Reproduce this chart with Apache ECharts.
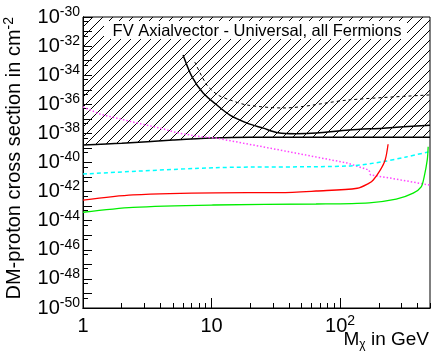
<!DOCTYPE html>
<html>
<head>
<meta charset="utf-8">
<script src="https://cdn.jsdelivr.net/npm/echarts@6/dist/echarts.min.js"></script>
<style>
  html, body { margin: 0; padding: 0; background: #fff; }
  #chart { width: 432px; height: 359px; }
</style>
</head>
<body>
<div id="chart"></div>
<script>
const FONT = '"Liberation Sans", Arial, Helvetica, sans-serif';

// DM mass in GeV / cross section in cm^-2
const excludedMass = [1, 2, 5, 10, 20, 500];
const excludedXsec = [1.6e-39, 2.1e-39, 3.5e-39, 4.8e-39, 5.4e-39, 5.4e-39];

const solidMass = [6.0, 7.05, 8.6, 11, 13.9, 18.9, 25.2, 33, 45, 65, 117, 216, 500];
const solidXsec = [2.45e-33, 7.6e-35, 6.0e-36, 8.9e-37, 1.8e-37, 5.1e-38, 2.3e-38, 1.1e-38, 9.5e-39, 1.05e-38, 1.7e-38, 2.3e-38, 3.7e-38];

const dashedMass = [7.4, 9.2, 11.2, 13.9, 18.9, 36, 117, 500];
const dashedXsec = [8.1e-34, 2.1e-35, 4.4e-36, 2.0e-36, 8.9e-37, 5.6e-37, 2.0e-36, 4.4e-36];

const magentaMass = [1, 1.36, 2.45, 4.0, 5.4, 8.1, 10.8, 34, 113, 168, 172, 245, 500];
const magentaXsec = [6.5e-37, 2.1e-37, 6.0e-38, 2.3e-38, 1.1e-38, 6.0e-39, 4.8e-39, 7.2e-40, 9.3e-41, 3.0e-41, 1.4e-41, 8.5e-42, 2.8e-42];

const cyanMass = [1, 10.8, 117, 216, 326, 493];
const cyanXsec = [1.62e-41, 4.4e-41, 5.75e-41, 1.15e-40, 2.4e-40, 5.5e-40];

const redMass = [1, 2.45, 10.8, 34, 65, 136, 168, 181, 205, 224, 236];
const redXsec = [2.6e-43, 5.9e-43, 8.3e-43, 8.5e-43, 1.1e-42, 1.7e-42, 3.8e-42, 6.3e-42, 3.0e-41, 1.5e-40, 1.8e-39];

const greenMass = [1, 2.45, 10.3, 65, 168, 273, 370, 427, 450, 476, 484];
const greenXsec = [3.8e-44, 8.3e-44, 1.2e-43, 1.4e-43, 1.7e-43, 3.0e-43, 7.8e-43, 2.1e-42, 1.0e-41, 1.5e-40, 1.2e-39];

// axis ticks and labels
const xLabelValues = [1, 10, 100];
const xMajorTicks = [1, 10, 100];
const xMinorTicks = [2, 3, 4, 5, 6, 7, 8, 9, 20, 30, 40, 50, 60, 70, 80, 90, 200, 300, 400, 500];
const yLabelValues = [1e-30, 1e-32, 1e-34, 1e-36, 1e-38, 1e-40, 1e-42, 1e-44, 1e-46, 1e-48, 1e-50];
const yMajorTicks = [1e-30, 1e-31, 1e-32, 1e-33, 1e-34, 1e-35, 1e-36, 1e-37, 1e-38, 1e-39, 1e-40,
  1e-41, 1e-42, 1e-43, 1e-44, 1e-45, 1e-46, 1e-47, 1e-48, 1e-49, 1e-50];
const yMinorTicks = [5e-31, 5e-32, 5e-33, 5e-34, 5e-35, 5e-36, 5e-37, 5e-38, 5e-39, 5e-40,
  5e-41, 5e-42, 5e-43, 5e-44, 5e-45, 5e-46, 5e-47, 5e-48, 5e-49, 5e-50];
const yMin = 1e-50;
const yMax = 1e-30;

// echarts rounds log extents to 20 decimals, so the y axis counts in units of 1e-40 cm^-2
const UNIT_EXP = 40;
const UNIT = 1e40;
const toUnit = v => +(v * UNIT).toPrecision(12);

const zip = (xs, ys) => xs.map((x, i) => [x, toUnit(ys[i])]);

function hatchPattern() {
  const c = document.createElement('canvas');
  c.width = 10;
  c.height = 10;
  const ctx = c.getContext('2d');
  ctx.strokeStyle = '#000';
  ctx.lineWidth = 1;
  ctx.beginPath();
  ctx.moveTo(0, 10); ctx.lineTo(10, 0);
  ctx.moveTo(-1, 1); ctx.lineTo(1, -1);
  ctx.moveTo(9, 11); ctx.lineTo(11, 9);
  ctx.stroke();
  return c;
}

const xLabel = v => {
  const e = Math.round(Math.log10(v));
  if (e === 0) return '{b|1}';
  if (e === 1) return '{b|10}';
  return '{b|10}{s|' + e + '}';
};
const yLabel = v => '{b|10}{s|' + (Math.round(Math.log10(v)) - UNIT_EXP) + '}';

const labelRich = {
  b: { fontSize: 20, fontFamily: FONT, color: '#000', lineHeight: 24 },
  s: { fontSize: 14, fontFamily: FONT, color: '#000', lineHeight: 10, verticalAlign: 'top' },
};

const logAxis = (min, max) => ({
  type: 'log',
  logBase: 10,
  min: min,
  max: max,
  splitLine: { show: false },
  axisLine: { show: true, lineStyle: { color: '#000', width: 1 } },
});

const chart = echarts.init(document.getElementById('chart'));

chart.setOption({
  animation: false,
  backgroundColor: '#fff',
  grid: {
    left: 83, right: 2, top: 17, bottom: 51,
    show: true, borderColor: '#000', borderWidth: 1,
    outerBoundsMode: 'none',
  },
  xAxis: [
    Object.assign(logAxis(1, 500), {
      position: 'bottom',
      axisTick: { show: true, inside: true, length: 10, customValues: xMajorTicks, lineStyle: { color: '#000' } },
      axisLabel: { customValues: xLabelValues, formatter: xLabel, rich: labelRich, margin: 6 },
    }),
    Object.assign(logAxis(1, 500), {
      position: 'bottom',
      axisTick: { show: true, inside: true, length: 5, customValues: xMinorTicks, lineStyle: { color: '#000' } },
      axisLabel: { show: false },
    }),
  ],
  yAxis: [
    Object.assign(logAxis(toUnit(yMin), toUnit(yMax)), {
      position: 'left',
      axisTick: { show: true, inside: true, length: 9, customValues: yMajorTicks.map(toUnit), lineStyle: { color: '#000' } },
      axisLabel: { customValues: yLabelValues.map(toUnit), formatter: yLabel, rich: labelRich, margin: 3 },
    }),
    Object.assign(logAxis(toUnit(yMin), toUnit(yMax)), {
      position: 'left',
      axisTick: { show: true, inside: true, length: 5, customValues: yMinorTicks.map(toUnit), lineStyle: { color: '#000' } },
      axisLabel: { show: false },
    }),
  ],
  series: [
    {
      name: 'excluded', type: 'line', data: zip(excludedMass, excludedXsec),
      symbol: 'none', smooth: 0.3, z: 1,
      lineStyle: { color: '#000', width: 1.5 },
      areaStyle: { origin: 'end', color: { image: hatchPattern(), repeat: 'repeat' }, opacity: 1 },
    },
    {
      name: 'solid', type: 'line', data: zip(solidMass, solidXsec),
      symbol: 'none', smooth: 0.3, lineStyle: { color: '#000', width: 1.5 },
    },
    {
      name: 'dashed', type: 'line', data: zip(dashedMass, dashedXsec),
      symbol: 'none', smooth: 0.3, lineStyle: { color: '#000', width: 1, type: [3, 3] },
    },
    {
      name: 'magenta', type: 'line', data: zip(magentaMass, magentaXsec),
      symbol: 'none', lineStyle: { color: '#ff44ff', width: 1.5, type: [1.5, 2] },
    },
    {
      name: 'cyan', type: 'line', data: zip(cyanMass, cyanXsec),
      symbol: 'none', smooth: 0.3, lineStyle: { color: '#00ffff', width: 1.5, type: [4, 3] },
    },
    {
      name: 'red', type: 'line', data: zip(redMass, redXsec),
      symbol: 'none', smooth: 0.3, lineStyle: { color: '#ff0000', width: 1.3 },
    },
    {
      name: 'green', type: 'line', data: zip(greenMass, greenXsec),
      symbol: 'none', smooth: 0.3, lineStyle: { color: '#00ee00', width: 1.3 },
    },
  ],
  graphic: [
    {
      type: 'rect', z: 100,
      shape: { x: 104, y: 21, width: 303, height: 18 },
      style: { fill: '#fff' },
    },
    {
      type: 'text', z: 101, x: 257, y: 31,
      style: {
        text: 'FV Axialvector - Universal, all Fermions',
        fontSize: 16.5, fontFamily: FONT, fill: '#000',
        align: 'center', verticalAlign: 'middle',
      },
    },
    {
      type: 'text', z: 101, x: 429, y: 340,
      style: {
        text: '{n|M}{sub|χ}{n| in GeV}',
        align: 'right', verticalAlign: 'middle',
        rich: {
          n: { fontSize: 19, fontFamily: FONT, fill: '#000', lineHeight: 22 },
          sub: { fontSize: 12, fontFamily: FONT, fill: '#000', lineHeight: 6, verticalAlign: 'bottom' },
        },
      },
    },
    {
      type: 'text', z: 101, x: 14, y: 17, rotation: Math.PI / 2,
      style: {
        text: '{n|DM-proton cross section in cm}{sup|-2}',
        align: 'right', verticalAlign: 'middle',
        rich: {
          n: { fontSize: 20, fontFamily: FONT, fill: '#000', lineHeight: 24 },
          sup: { fontSize: 14, fontFamily: FONT, fill: '#000', lineHeight: 10, verticalAlign: 'top' },
        },
      },
    },
  ],
});
</script>
</body>
</html>
